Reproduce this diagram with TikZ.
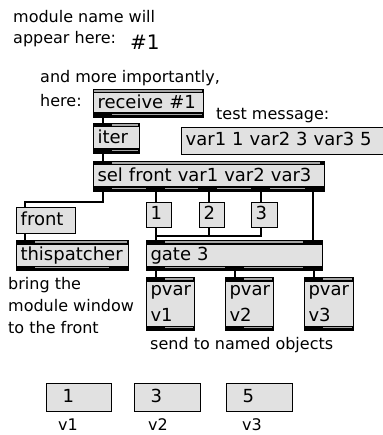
\documentclass[tikz,border=0pt]{standalone}
\usepackage{fontspec}
\setmainfont{DejaVu Sans}
\usetikzlibrary{calc}

\definecolor{boxgray}{RGB}{225,225,225}
\definecolor{bandgray}{RGB}{165,165,165}

\newcommand\boxfont{\fontsize{18}{25.5}\selectfont\spaceskip=0.35em\relax}
\newcommand\cmtfont{\fontsize{16}{22}\selectfont}

% a patcher box: style, name, x1, y1, x2, y2, text
\newcommand\mxbox[7][objbox]{%
  \pgfmathsetmacro\mxw{#5-#3}%
  \pgfmathsetmacro\mxh{#6-#4}%
  \pgfmathsetmacro\mxtw{#5-#3-8}%
  \node[#1, minimum width=\mxw pt, minimum height=\mxh pt, text width=\mxtw pt] (#2) at (#3,#4) {#7};}
% port strips of an object box
\newcommand\topband[3]{%
  \fill[black] (#1,#2) rectangle (#3,#2+4.5);
  \fill[bandgray] (#1+1,#2+1.4) rectangle (#3-1,#2+3);}
\newcommand\botband[3]{%
  \fill[black] (#1,#2-4.5) rectangle (#3,#2);
  \fill[bandgray] (#1+1,#2-3.3) rectangle (#3-1,#2-1.7);}
\newcommand\inport[2]{\fill[black] (#1,#2) rectangle (#1+19,#2+4.5);}
\newcommand\outport[2]{\fill[black] (#1,#2-4.5) rectangle (#1+19,#2);}

\begin{document}
\begin{tikzpicture}[x=1pt,y=-1pt,
  objbox/.style={draw=black, fill=boxgray, line width=1pt, anchor=north west,
    inner xsep=4pt, inner ysep=0pt, text height=12pt, text depth=2.6pt,
    align=left, font=\boxfont},
  twoline/.style={objbox, text depth=28.1pt},
  msgbox/.style={objbox, line width=1.4pt},
  cmt/.style={anchor=base west, inner sep=0pt, font=\cmtfont},
  wire/.style={line width=2pt, black}]
\useasboundingbox (0,0) rectangle (382,435);

% comments
\node[cmt] (c1) at (13,23) {module name will};
\node[cmt] (c2) at (13,44) {appear here:};
\node[cmt, font=\fontsize{20}{24}\selectfont] (c3) at (130,50) {\#1};
\node[cmt] (c4) at (40,83) {and more importantly,};
\node[cmt] (c5) at (40,107) {here:};
\node[cmt] (c6) at (216,120) {test message:};
\node[cmt] (c7) at (8,289) {bring the};
\node[cmt] (c8) at (8,311) {module window};
\node[cmt] (c9) at (8,333) {to the front};
\node[cmt] (c10) at (150,349) {send to named objects};
\node[cmt] (c11) at (58,430) {v1};
\node[cmt] (c12) at (148,430) {v2};
\node[cmt] (c13) at (242,430) {v3};

% object boxes
\mxbox{recv}{93}{89}{203}{117}{receive \#1}
\mxbox{iter}{93}{123}{139}{153}{iter}
\mxbox{sel}{93}{161}{324}{191}{sel front var1 var2 var3}
\mxbox{tp}{16}{240}{128}{270}{thispatcher}
\mxbox{gate}{146}{240}{322}{270}{gate 3}
\mxbox[twoline]{pv1}{146}{277}{194}{330}{pvar\\v1}
\mxbox[twoline]{pv2}{225}{277}{273}{330}{pvar\\v2}
\mxbox[twoline]{pv3}{304}{277}{353}{330}{pvar\\v3}

% message boxes
\mxbox[msgbox]{test}{181}{127}{390}{154}{var1 1 var2 3 var3 5}
\mxbox[msgbox]{front}{16}{207}{75}{233}{front}
\mxbox[msgbox]{m1}{146}{202}{171}{227}{1}
\mxbox[msgbox]{m2}{199}{202}{224}{227}{2}
\mxbox[msgbox]{m3}{251}{202}{277}{227}{3}

% number boxes
\mxbox[msgbox]{n1}{46}{383}{111}{411}{\hspace{12pt}1}
\mxbox[msgbox]{n2}{134}{383}{200}{411}{\hspace{12pt}3}
\mxbox[msgbox]{n3}{226}{383}{292}{411}{\hspace{12pt}5}

% inlet / outlet strips
\topband{93}{89}{203}\botband{93}{117}{203}\outport{93}{117}
\topband{93}{123}{139}\botband{93}{153}{139}\inport{93}{123}\outport{93}{153}
\topband{93}{161}{324}\botband{93}{191}{324}\inport{93}{161}
\fill[black] (320,161) rectangle (324,165.5);
\foreach \p in {93,146,198,251,305} {\outport{\p}{191}}
\topband{16}{240}{128}\botband{16}{270}{128}\inport{16}{240}
\outport{16}{270}\outport{109}{270}
\topband{146}{240}{322}\botband{146}{270}{322}\inport{146}{240}\inport{303}{240}
\foreach \p in {146,225,303} {\outport{\p}{270}}
\foreach \a/\b in {146/194,225/273,304/353} {
  \topband{\a}{277}{\b}\botband{\a}{330}{\b}\inport{\a}{277}\outport{\a}{330}}

% patch cords
\draw[wire] ([xshift=9.5pt]recv.south west) -- ([xshift=9.5pt]iter.north west);
\draw[wire] ([xshift=9.5pt]iter.south west) -- ([xshift=9.5pt]sel.north west);
\draw[wire] ([xshift=10pt]sel.south west) -- ++(0,10) -| ([xshift=9pt]front.north west);
\draw[wire] ([xshift=9pt]front.south west) -- ([xshift=9pt]tp.north west);
\foreach \m in {m1,m2,m3}
  \draw[wire] ([xshift=9.5pt]\m.north west) -- ([xshift=9.5pt]\m.north west |- sel.south);
\draw[wire] ([xshift=9.5pt]m1.south west) -- ([xshift=9.5pt]gate.north west);
\draw[wire] ([xshift=9.5pt]m3.south west) -- ++(0,8) -| ([xshift=9.5pt]m1.south west);
\draw[wire] ([xshift=9.5pt]m2.south west) -- ++(0,8);
\draw[wire] ([xshift=-10pt]gate.north east) -- ([xshift=-10pt]gate.north east |- sel.south);
\foreach \v in {pv1,pv2,pv3}
  \draw[wire] ([xshift=9.5pt]\v.north west) -- ([xshift=9.5pt]\v.north west |- gate.south);
\end{tikzpicture}
\end{document}
